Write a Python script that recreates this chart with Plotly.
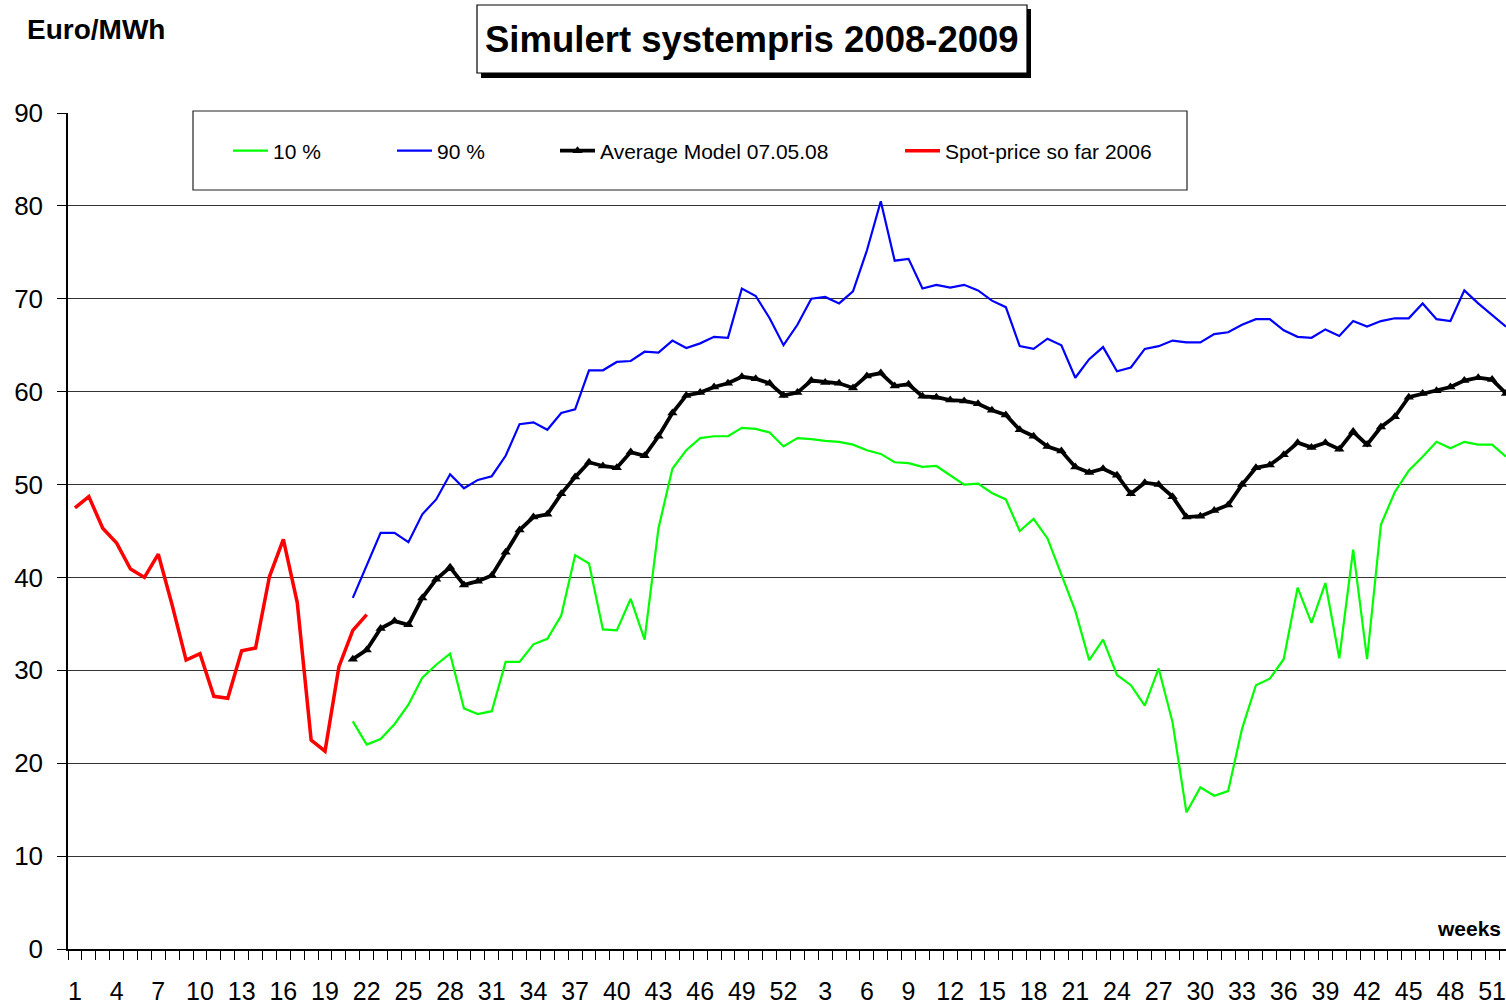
import plotly.graph_objects as go

FONT = "Liberation Sans, Arial, sans-serif"

# 104 weekly categories: weeks 1-52 of 2008 followed by weeks 1-52 of 2009
weeks_2008 = list(range(1, 53))
weeks_2009 = list(range(1, 53))
week_categories = [f"2008-W{w:02d}" for w in weeks_2008] + [f"2009-W{w:02d}" for w in weeks_2009]
week_index = {c: i for i, c in enumerate(week_categories)}

tick_labels = ["1", "4", "7", "10", "13", "16", "19", "22", "25", "28", "31", "34", "37",
               "40", "43", "46", "49", "52", "3", "6", "9", "12", "15", "18", "21", "24",
               "27", "30", "33", "36", "39", "42", "45", "48", "51"]
tick_categories = [f"2008-W{int(t):02d}" for t in tick_labels[:18]] + \
                  [f"2009-W{int(t):02d}" for t in tick_labels[18:]]

# Spot price, weeks 1-22 of 2008
spot_start = "2008-W01"
spot = [47.5, 48.7, 45.3, 43.7, 40.9, 40.0, 42.5, 37.0, 31.1, 31.8, 27.2, 27.0,
        32.1, 32.4, 40.1, 44.1, 37.3, 22.5, 21.3, 30.4, 34.3, 36.0]

# Model series, from week 21 of 2008
model_start = "2008-W21"
p10 = [24.5, 22.0, 22.6, 24.2, 26.3, 29.2, 30.6, 31.8, 25.9, 25.3,
       25.6, 30.9, 30.9, 32.8, 33.4, 35.9, 42.4, 41.5, 34.4, 34.3,
       37.7, 33.3, 45.3, 51.7, 53.7, 55.0, 55.2, 55.2, 56.1, 56.0,
       55.6, 54.1, 55.0, 54.9, 54.7, 54.6, 54.3, 53.7, 53.3, 52.4,
       52.3, 51.9, 52.0, 51.0, 50.0, 50.1, 49.1, 48.4, 45.0, 46.3,
       44.2, 40.3, 36.4, 31.1, 33.3, 29.5, 28.4, 26.2, 30.2, 24.4,
       14.7, 17.4, 16.5, 17.0, 23.7, 28.4, 29.1, 31.2, 38.9, 35.1,
       39.4, 31.3, 43.0, 31.2, 45.7, 49.2, 51.5, 53.0, 54.6, 53.9,
       54.6, 54.3, 54.3, 53.0]
p90 = [37.8, 41.3, 44.8, 44.8, 43.8, 46.8, 48.4, 51.1, 49.6, 50.5,
       50.9, 53.1, 56.5, 56.7, 55.9, 57.7, 58.1, 62.3, 62.3, 63.2,
       63.3, 64.3, 64.2, 65.5, 64.7, 65.2, 65.9, 65.8, 71.1, 70.3,
       67.9, 65.0, 67.2, 70.0, 70.2, 69.5, 70.8, 75.2, 80.5, 74.1,
       74.3, 71.1, 71.5, 71.2, 71.5, 70.9, 69.8, 69.1, 64.9, 64.6,
       65.7, 65.0, 61.5, 63.5, 64.8, 62.2, 62.6, 64.6, 64.9, 65.5,
       65.3, 65.3, 66.2, 66.4, 67.2, 67.8, 67.8, 66.6, 65.9, 65.8,
       66.7, 66.0, 67.6, 67.0, 67.6, 67.9, 67.9, 69.5, 67.8, 67.6,
       70.9, 69.5, 68.3, 67.0]
avg = [31.2, 32.2, 34.5, 35.3, 34.9, 37.8, 39.8, 41.1, 39.2, 39.6,
       40.2, 42.7, 45.1, 46.5, 46.8, 49.0, 50.8, 52.4, 52.0, 51.8,
       53.5, 53.1, 55.2, 57.7, 59.6, 59.9, 60.5, 60.9, 61.6, 61.4,
       60.9, 59.6, 59.9, 61.2, 61.0, 60.9, 60.4, 61.7, 62.0, 60.6,
       60.8, 59.5, 59.4, 59.1, 59.0, 58.7, 58.0, 57.5, 55.9, 55.2,
       54.1, 53.6, 51.9, 51.3, 51.7, 51.0, 49.0, 50.2, 50.0, 48.7,
       46.5, 46.6, 47.2, 47.8, 50.0, 51.8, 52.1, 53.2, 54.5, 54.0,
       54.5, 53.8, 55.7, 54.3, 56.2, 57.3, 59.4, 59.8, 60.1, 60.5,
       61.2, 61.5, 61.3, 59.8]

s0 = week_index[spot_start]
m0 = week_index[model_start]
spot_x = list(range(s0, s0 + len(spot)))
model_x = list(range(m0, m0 + len(avg)))

# Figure fills the whole 1506x1008 window (page margin removed below).
W, H = 1506, 1008
PLOT_LEFT, PLOT_TOP, PLOT_BOTTOM = 68, 113, 949   # window pixels
L, R, T, B = PLOT_LEFT, 0, PLOT_TOP, H - PLOT_BOTTOM
PW, PH = W - L - R, H - T - B


def px_x(px):
    """Window pixel x -> paper coordinate."""
    return (px - L) / PW


def px_y(py):
    """Window pixel y -> paper coordinate."""
    return (H - B - py) / PH


fig = go.Figure()
fig.add_trace(go.Scatter(x=model_x, y=p10, mode="lines", name="10 %",
                         line=dict(color="#00FF00", width=2.2), legend="legend"))
fig.add_trace(go.Scatter(x=model_x, y=p90, mode="lines", name="90 %",
                         line=dict(color="#0000FF", width=2.2), legend="legend2"))
fig.add_trace(go.Scatter(x=model_x, y=avg, mode="lines+markers", name="Average Model 07.05.08",
                         line=dict(color="black", width=3.8),
                         marker=dict(symbol="triangle-up", size=9, color="black"),
                         legend="legend3"))
fig.add_trace(go.Scatter(x=spot_x, y=spot, mode="lines", name="Spot-price so far 2006",
                         line=dict(color="#FF0000", width=3.5), legend="legend4"))

leg_common = dict(y=px_y(151), xanchor="left", yanchor="middle", orientation="h",
                  bgcolor="rgba(0,0,0,0)", borderwidth=0, itemwidth=35,
                  font=dict(family=FONT, size=21, color="black"))

fig.update_layout(
    width=W, height=H,
    margin=dict(l=L, r=R, t=T, b=B, autoexpand=False),
    paper_bgcolor="white", plot_bgcolor="white",
    font=dict(family=FONT, color="black"),
    showlegend=True,
    legend=dict(x=px_x(228), **leg_common),
    legend2=dict(x=px_x(392), **leg_common),
    legend3=dict(x=px_x(555), **leg_common),
    legend4=dict(x=px_x(900), **leg_common),
    xaxis=dict(
        range=[-0.5, 103],
        tickmode="array",
        tickvals=[week_index[c] for c in tick_categories],
        ticktext=tick_labels,
        ticks="", ticklabelstandoff=19,
        ticklabeloverflow="allow",
        tickfont=dict(family=FONT, size=25, color="black"),
        minor=dict(tick0=-0.5, dtick=1, ticks="outside", ticklen=9,
                   tickcolor="black", tickwidth=1, showgrid=False),
        showline=True, linecolor="black", linewidth=1.5,
        showgrid=False, zeroline=False,
    ),
    yaxis=dict(
        range=[0, 90], dtick=10, tick0=0,
        ticks="outside", ticklen=9, tickcolor="black", tickwidth=1,
        ticklabelstandoff=9,
        tickfont=dict(family=FONT, size=26, color="black"),
        showgrid=True, gridcolor="#333333", gridwidth=1,
        showline=True, linecolor="black", linewidth=1.5,
        zeroline=False,
    ),
    shapes=[
        # legend frame
        dict(type="rect", xref="paper", yref="paper", layer="above",
             x0=px_x(193), x1=px_x(1187), y0=px_y(190), y1=px_y(111),
             fillcolor="white", line=dict(color="#222222", width=1.2)),
        # title shadow
        dict(type="rect", xref="paper", yref="paper", layer="above",
             x0=px_x(481), x1=px_x(1031), y0=px_y(78), y1=px_y(9),
             fillcolor="black", line=dict(width=0)),
        # title box
        dict(type="rect", xref="paper", yref="paper", layer="above",
             x0=px_x(477), x1=px_x(1027), y0=px_y(73), y1=px_y(5),
             fillcolor="white", line=dict(color="black", width=1.2)),
    ],
    annotations=[
        dict(text="<b>Simulert systempris 2008-2009</b>", xref="paper", yref="paper",
             x=px_x(752), y=px_y(40), xanchor="center", yanchor="middle", showarrow=False,
             font=dict(family=FONT, size=36.5, color="black")),
        dict(text="<b>Euro/MWh</b>", xref="paper", yref="paper",
             x=px_x(25), y=px_y(29), xanchor="left", yanchor="middle", showarrow=False,
             font=dict(family=FONT, size=28, color="black")),
        dict(text="<b>weeks</b>", xref="paper", yref="paper",
             x=px_x(1503), y=px_y(928), xanchor="right", yanchor="middle", showarrow=False,
             font=dict(family=FONT, size=21, color="black")),
    ],
)

fig.write_html(
    "out.html",
    config={"displayModeBar": False},
    post_script="document.body.style.margin='0';document.body.style.overflow='hidden';",
)
